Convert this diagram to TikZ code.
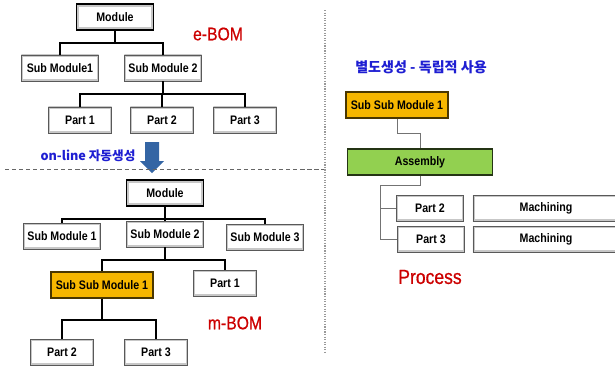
\documentclass[tikz,border=0pt]{standalone}
\usepackage{fontspec}
\setmainfont{Liberation Sans}[FakeStretch=0.86]
\newfontfamily\bomfont{Liberation Sans}[FakeStretch=0.86, FakeBold=0.7]
\newfontfamily\kofont{Noto Sans CJK KR}

\definecolor{ssmorange}{RGB}{247,183,0}
\definecolor{asmgreen}{RGB}{146,208,80}
\definecolor{txtblue}{RGB}{30,30,210}
\definecolor{txtred}{RGB}{204,0,0}
\definecolor{arrblue}{RGB}{52,101,164}

\tikzset{
  box/.style={draw=black!65, line width=0.5pt, fill=white, minimum height=0.65cm,
    inner sep=0pt, font=\fontsize{8.8}{10}\selectfont\bfseries,
    path picture={\draw[black!22, line width=2.6pt]
      (path picture bounding box.south west) rectangle (path picture bounding box.north east);}},
  topbox/.style={box, draw=black, line width=1.4pt, minimum width=1.925cm,
    path picture={\draw[black!22, line width=3.6pt]
      (path picture bounding box.south west) rectangle (path picture bounding box.north east);}},
  subbox/.style={box, minimum width=1.925cm},
  partbox/.style={box, minimum width=1.575cm},
  ssmbox/.style={box, fill=ssmorange, draw=black!70!ssmorange, line width=0.9pt,
    minimum width=2.55cm, path picture={}},
  asmbox/.style={box, fill=asmgreen, draw=black!75!asmgreen, line width=0.9pt,
    minimum width=3.625cm, path picture={}},
  machbox/.style={box, minimum width=3.65cm},
  tree/.style={line width=1.6pt, black},
  thin/.style={line width=0.7pt, black!55},
  bomlbl/.style={text=txtred, font=\bomfont\fontsize{13}{15}\selectfont},
  kolbl/.style={text=txtblue, font=\kofont\bfseries\fontsize{9}{11}\selectfont}
}

\begin{document}
\begin{tikzpicture}[x=0.025cm, y=-0.025cm]
  \useasboundingbox (0,0) rectangle (615,368);
  \clip (0,0) rectangle (615,368);

  % --- e-BOM ---
  \node[topbox] (emod) at (115,17) {Module};
  \node[subbox] (esm1) at (60,68) {Sub Module1};
  \node[subbox] (esm2) at (163,68) {Sub Module 2};
  \node[partbox] (ep1) at (80,120) {Part 1};
  \node[partbox] (ep2) at (162,120) {Part 2};
  \node[partbox] (ep3) at (245,120) {Part 3};
  \node[bomlbl] (ebom) at (218,34) {e-BOM};

  \draw[tree] (emod.south) -- ++(0,12) -| (esm1.north);
  \draw[tree] (emod.south) -- ++(0,12) -| (esm2.north);
  \foreach \p in {ep1,ep2,ep3}
    \draw[tree] (esm2.south) -- ++(0,13) -| (\p.north);

  % --- on-line arrow ---
  \node[kolbl] (online) at (88,156) {on-line 자동생성};
  \fill[arrblue] (145,142) -- (159,142) -- (159,161) -- (164,161) -- (152,173)
    -- (140,161) -- (145,161) -- cycle;

  % --- separators ---
  \draw[densely dashed, black!60, line width=0.5pt] (5,169) -- (325,169);
  \draw[densely dotted, black!40, line width=0.8pt] (325,10) -- (325,352);

  % --- m-BOM ---
  \node[topbox] (mmod) at (165,193) {Module};
  \node[subbox] (msm1) at (62,236) {Sub Module 1};
  \node[subbox] (msm2) at (165,234) {Sub Module 2};
  \node[subbox] (msm3) at (265,237) {Sub Module 3};
  \node[ssmbox] (mssm) at (102,285) {Sub Sub Module 1};
  \node[partbox] (mp1) at (225,283) {Part 1};
  \node[partbox] (mp2) at (62,352) {Part 2};
  \node[partbox] (mp3) at (156,352) {Part 3};
  \node[bomlbl] (mbom) at (235,323) {m-BOM};

  \foreach \s in {msm1,msm2,msm3}
    \draw[tree] (mmod.south) -- ++(0,12) -| (\s.north);
  \draw[tree] (msm2.south) -- ++(0,13) -| (mssm.north);
  \draw[tree] (msm2.south) -- ++(0,13) -| (mp1.north);
  \draw[tree] (mssm.south) -- ++(0,21) -| (mp2.north);
  \draw[tree] (mssm.south) -- ++(0,21) -| (mp3.north);

  % --- Process ---
  \node[kolbl, font=\kofont\bfseries\fontsize{10}{12}\selectfont] (rtitle) at (421,67) {별도생성 - 독립적 사용};
  \node[ssmbox] (rssm) at (397,105) {Sub Sub Module 1};
  \node[asmbox] (rasm) at (420,162) {Assembly};
  \node[partbox, minimum width=1.675cm] (rp2) at (430,208) {Part 2};
  \node[partbox, minimum width=1.675cm] (rp3) at (431,239) {Part 3};
  \node[machbox] (rm2) at (546,208) {Machining};
  \node[machbox] (rm3) at (546,239) {Machining};
  \node[bomlbl, font=\bomfont\fontsize{14.5}{16}\selectfont] (proc) at (430,277) {Process};

  \coordinate (bus) at (380,185);
  \draw[thin] (rssm.south) -- ++(0,15) -| (rasm.north);
  \draw[thin] (rasm.south) |- (bus) |- (rp3.west);
  \draw[thin] (bus) |- (rp2.west);
\end{tikzpicture}
\end{document}
